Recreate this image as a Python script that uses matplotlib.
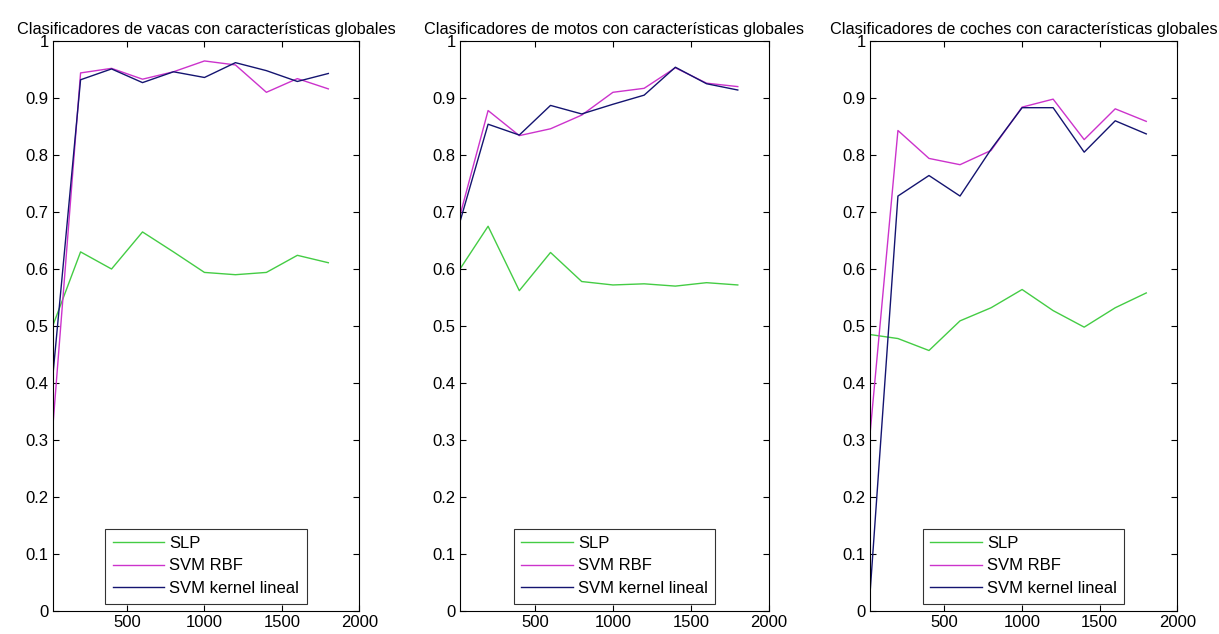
import matplotlib
matplotlib.use("Agg")
import matplotlib.pyplot as plt

plt.rcParams['font.family'] = ['Liberation Sans', 'DejaVu Sans']

x = [20, 200, 400, 600, 800, 1000, 1200, 1400, 1600, 1800]

titles = [
    "Clasificadores de vacas con características globales",
    "Clasificadores de motos con características globales",
    "Clasificadores de coches con características globales",
]

# vacas
vacas_slp = [0.50, 0.630, 0.600, 0.665, 0.630, 0.594, 0.590, 0.594, 0.624, 0.611]
vacas_rbf = [0.32, 0.944, 0.952, 0.933, 0.946, 0.965, 0.958, 0.910, 0.934, 0.916]
vacas_lin = [0.41, 0.932, 0.951, 0.927, 0.946, 0.936, 0.962, 0.948, 0.929, 0.943]

# motos
motos_slp = [0.600, 0.675, 0.562, 0.629, 0.578, 0.572, 0.574, 0.570, 0.576, 0.572]
motos_rbf = [0.694, 0.878, 0.834, 0.846, 0.870, 0.910, 0.917, 0.953, 0.926, 0.920]
motos_lin = [0.683, 0.854, 0.835, 0.887, 0.872, 0.889, 0.905, 0.954, 0.925, 0.914]

# coches
coches_slp = [0.485, 0.478, 0.457, 0.509, 0.532, 0.564, 0.527, 0.498, 0.532, 0.558]
coches_rbf = [0.31, 0.843, 0.794, 0.783, 0.808, 0.884, 0.898, 0.827, 0.881, 0.859]
coches_lin = [0.03, 0.728, 0.764, 0.728, 0.810, 0.883, 0.883, 0.805, 0.860, 0.837]

series = [
    (vacas_slp, vacas_rbf, vacas_lin),
    (motos_slp, motos_rbf, motos_lin),
    (coches_slp, coches_rbf, coches_lin),
]
labels = ["SLP", "SVM RBF", "SVM kernel lineal"]
colors = ["#44cc44", "#cc33cc", "#141470"]

yticks = [0, 0.1, 0.2, 0.3, 0.4, 0.5, 0.6, 0.7, 0.8, 0.9, 1]
yticklabels = ["0", "0.1", "0.2", "0.3", "0.4", "0.5", "0.6", "0.7", "0.8", "0.9", "1"]
xticks = [500, 1000, 1500, 2000]

W, H = 1219, 634
fig = plt.figure(figsize=(W / 100, H / 100), dpi=100)
fig.patch.set_facecolor("white")

lefts = [52.7, 460.0, 870.0]
rights = [359.3, 769.0, 1177.3]
top, bottom = 41.0, 611.0

for i in range(3):
    ax = fig.add_axes([lefts[i] / W, 1 - bottom / H, (rights[i] - lefts[i]) / W, (bottom - top) / H])
    for vals, lab, col in zip(series[i], labels, colors):
        ax.plot(x, vals, color=col, lw=1.0, label=lab)
    ax.set_xlim(20, 2000)
    ax.set_ylim(0, 1)
    ax.set_xticks(xticks)
    ax.set_xticklabels([str(t) for t in xticks])
    ax.set_yticks(yticks)
    ax.set_yticklabels(yticklabels)
    ax.tick_params(direction="in", top=True, right=True, length=4, width=0.8,
                   labelsize=12, colors="black", pad=3)
    for sp in ax.spines.values():
        sp.set_linewidth(0.8)
        sp.set_color("black")
    ax.set_title(titles[i], fontsize=11.7, pad=5)
    leg = ax.legend(loc="lower center", fontsize=12, handlelength=3.1, frameon=True,
                    fancybox=False, borderaxespad=0.45, labelspacing=0.45,
                    handletextpad=0.3, borderpad=0.45)
    leg.get_frame().set_edgecolor("black")
    leg.get_frame().set_linewidth(0.8)

fig.savefig("out.png", dpi=100, facecolor="white")
